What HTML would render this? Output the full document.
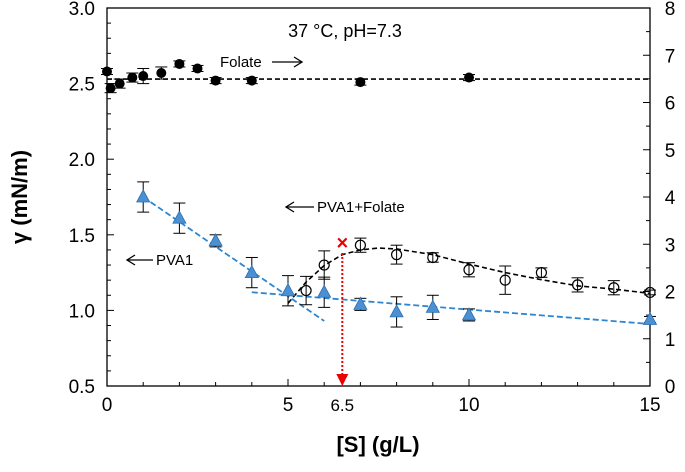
<!DOCTYPE html>
<html><head><meta charset="utf-8"><style>
body{margin:0;background:#fff}
svg{display:block;font-family:"Liberation Sans",sans-serif}
</style></head><body>
<svg id="c" width="685" height="472"></svg>
<script>
const folateX=[0,0.1,0.35,0.7,1,1.5,2,2.5,3,4,7,10];
const folateY=[2.58,2.47,2.50,2.54,2.55,2.57,2.63,2.60,2.52,2.52,2.51,2.54];
const folateErr=[0.02,0.03,0.03,0.03,0.05,0.04,0.02,0.02,0.02,0.02,0.02,0.02];
const pvaX=[1,2,3,4,5,6,7,8,9,10,15];
const pvaY=[1.75,1.61,1.46,1.25,1.13,1.12,1.04,0.99,1.02,0.97,0.94];
const pvaErr=[0.1,0.1,0.04,0.1,0.1,0.1,0.04,0.1,0.08,0.04,0.02];
const mixX=[5.5,6,7,8,9,10,11,12,13,14,15];
const mixY=[2.02,2.56,2.98,2.78,2.72,2.46,2.24,2.40,2.14,2.08,1.98];
const mixErr=[0.3,0.3,0.15,0.2,0.1,0.15,0.3,0.1,0.15,0.15,0.05];
const mixFitX=[5,5.5,6,6.5,7,7.5,8,9,10,11,12,13,14,15];
const mixFitY=[1.75,2.2,2.55,2.78,2.88,2.92,2.9,2.78,2.58,2.4,2.25,2.12,2.05,1.96];
const xTicks=[0,5,10,15];
const yTicks=[0.5,1.0,1.5,2.0,2.5,3.0];
const y2Ticks=[0,1,2,3,4,5,6,7,8];

const L=107,R=650,T=8,B=386;
const X=v=>L+(v-0)/15*(R-L);
const Y=v=>B-(v-0.5)/2.5*(B-T);
const Y2=v=>B-v/8*(B-T);
const s=document.getElementById('c');const NS='http://www.w3.org/2000/svg';
function el(t,a,txt){const e=document.createElementNS(NS,t);for(const k in a)e.setAttribute(k,a[k]);if(txt!=null)e.textContent=txt;s.appendChild(e);return e;}
let e;
e=el('rect',{x:L,y:T,width:R-L,height:B-T,fill:'none',stroke:'#000','stroke-width':1.3});

for(let v=0.5;v<=3.001;v+=0.1){const y=Y(v);const major=Math.abs(v*2-Math.round(v*2))<1e-6;
el('line',{x1:L,x2:L+(major?7:4),y1:y,y2:y,stroke:'#000'});}
yTicks.forEach(v=>{e=el('text',{x:L-12,y:Y(v)+7,'text-anchor':'end','font-size':19},v.toFixed(1));
});
for(let v=0;v<=8.001;v+=0.5){const y=Y2(v);el('line',{x1:R,x2:R-(v%1===0?7:4),y1:y,y2:y,stroke:'#000'});}
y2Ticks.forEach(v=>{e=el('text',{x:R+20,y:Y2(v)+7,'text-anchor':'middle','font-size':19},v);
});
for(let v=0;v<=15;v++){el('line',{x1:X(v),x2:X(v),y1:B,y2:B-(v%5===0?7:4),stroke:'#000'});}
xTicks.forEach(v=>{e=el('text',{x:X(v),y:411,'text-anchor':'middle','font-size':19},v);
});
e=el('text',{x:X(6.5),y:411,'text-anchor':'middle','font-size':17},'6.5');

e=el('text',{x:378,y:452,'text-anchor':'middle','font-size':22,'font-weight':'bold'},'[S] (g/L)');

e=el('text',{x:0,y:0,'text-anchor':'middle','font-size':22,'font-weight':'bold',transform:'translate(27,197) rotate(-90)'},'γ (mN/m)');

e=el('text',{x:345,y:37,'text-anchor':'middle','font-size':18},'37 °C, pH=7.3');

function arrow(x1,x2,y,name){e=el('line',{x1,x2,y1:y,y2:y,stroke:'#000','stroke-width':1.3});

const d=x2>x1?-1:1;el('path',{d:`M${x2+d*8},${y-5} L${x2},${y} L${x2+d*8},${y+5}`,fill:'none',stroke:'#000','stroke-width':1.3});}
e=el('text',{x:220,y:67,'font-size':15},'Folate');
arrow(272,302,62,'folate-arrow');
arrow(314,286,207,'pva1-folate-arrow');
e=el('text',{x:317,y:212,'font-size':15},'PVA1+Folate');
arrow(153,127,260,'pva1-arrow');
e=el('text',{x:156,y:265,'font-size':15},'PVA1');
e=el('line',{x1:X(0),x2:X(15),y1:Y(2.53),y2:Y(2.53),stroke:'#000','stroke-width':1.6,'stroke-dasharray':'5,3'});

e=el('line',{x1:X(1),x2:X(6),y1:Y(1.75),y2:Y(0.93),stroke:'#2E86D1','stroke-width':1.8,'stroke-dasharray':'6,3'});

e=el('line',{x1:X(4),x2:X(15),y1:Y(1.12),y2:Y(0.91),stroke:'#2E86D1','stroke-width':1.8,'stroke-dasharray':'6,3'});

let dd='';mixFitX.forEach((x,i)=>{dd+=(i?'L':'M')+X(x)+','+Y2(mixFitY[i]);});
e=el('path',{d:dd,fill:'none',stroke:'#000','stroke-width':1.6,'stroke-dasharray':'5,3'});

function eb(x,y1,y2){el('line',{x1:x,x2:x,y1,y2,stroke:'#000'});el('line',{x1:x-6,x2:x+6,y1,y2:y1,stroke:'#000'});el('line',{x1:x-6,x2:x+6,y1:y2,y2,stroke:'#000'});}
folateX.forEach((x,i)=>{eb(X(x),Y(folateY[i]+folateErr[i]),Y(folateY[i]-folateErr[i]));
e=el('circle',{cx:X(x),cy:Y(folateY[i]),r:5,fill:'#000'});
});
mixX.forEach((x,i)=>{eb(X(x),Y2(mixY[i]+mixErr[i]),Y2(mixY[i]-mixErr[i]));
e=el('circle',{cx:X(x),cy:Y2(mixY[i]),r:5,fill:'none',stroke:'#000','stroke-width':1.2});
});
pvaX.forEach((x,i)=>{eb(X(x),Y(pvaY[i]+pvaErr[i]),Y(pvaY[i]-pvaErr[i]));
const cx=X(x),cy=Y(pvaY[i]);
e=el('path',{d:`M${cx},${cy-7} L${cx+6.5},${cy+5} L${cx-6.5},${cy+5}Z`,fill:'#4A90D2',stroke:'#2E6FB0','stroke-width':0.8});
});
const cx=X(6.5);
e=el('line',{x1:cx,x2:cx,y1:Y(1.38),y2:B-10,stroke:'#E00','stroke-width':2,'stroke-dasharray':'2,2'});

e=el('path',{d:`M${cx-6},${B-12} L${cx+6},${B-12} L${cx},${B}Z`,fill:'#E00'});

e=el('text',{x:cx,y:Y(1.45)+7,'text-anchor':'middle','font-size':20,fill:'#E00','font-weight':'bold'},'×');

</script>
</body></html>
